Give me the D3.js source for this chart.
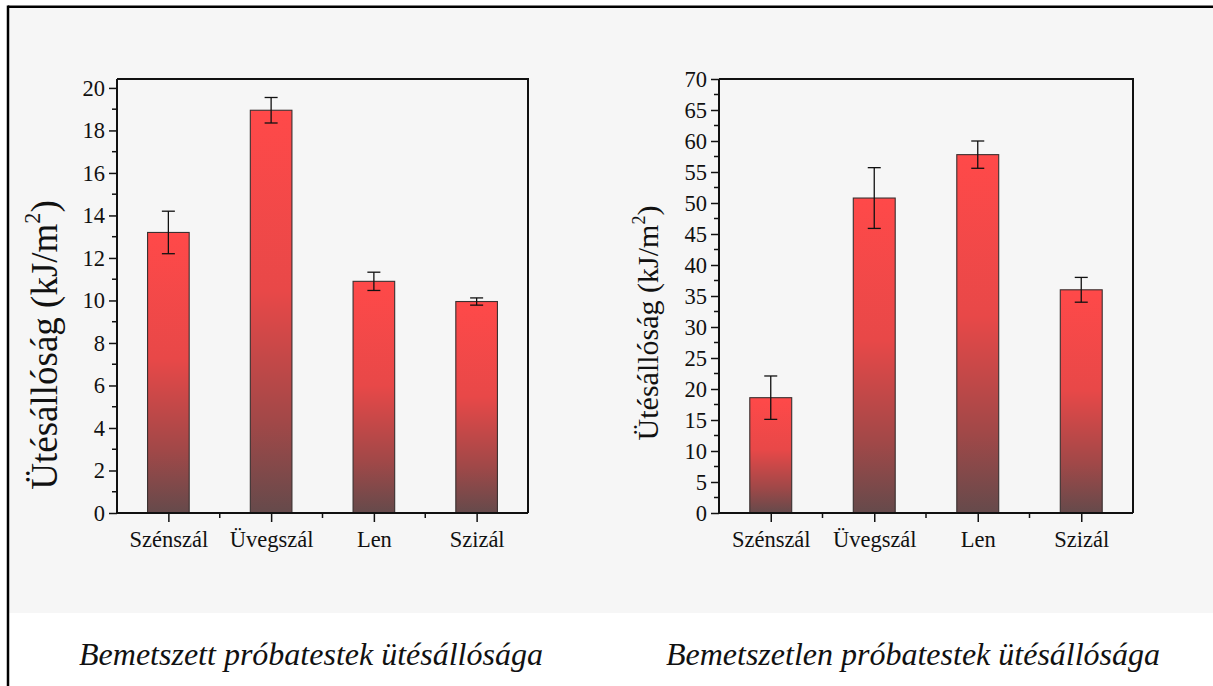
<!DOCTYPE html>
<html>
<head>
<meta charset="utf-8">
<script src="https://cdn.jsdelivr.net/npm/d3@7"></script>
<style>
  html, body { margin: 0; padding: 0; background: #ffffff; }
  svg { display: block; }
  text { font-family: "Liberation Serif", "Times New Roman", "Tinos", "Noto Serif", "DejaVu Serif", serif; fill: #111; }
</style>
</head>
<body>
<svg id="fig" width="1213" height="686"></svg>
<script>
// Impact strength of fibre-reinforced specimens (kJ/m²)
const categories = ["Szénszál", "Üvegszál", "Len", "Szizál"];

// Notched specimens
const notchedValues = [13.2, 18.95, 10.9, 9.95];
const notchedErrors = [1.0, 0.6, 0.43, 0.17];
const notchedTicks = [0, 2, 4, 6, 8, 10, 12, 14, 16, 18, 20];

// Unnotched specimens
const unnotchedValues = [18.6, 50.8, 57.8, 36.0];
const unnotchedErrors = [3.5, 4.9, 2.2, 2.0];
const unnotchedTicks = [0, 5, 10, 15, 20, 25, 30, 35, 40, 45, 50, 55, 60, 65, 70];

const captions = ["Bemetszett próbatestek ütésállósága", "Bemetszetlen próbatestek ütésállósága"];
const yLabel = "Ütésállóság (kJ/m";

const FONT = '"Liberation Serif", "Times New Roman", "Tinos", "Noto Serif", "DejaVu Serif", serif';

const svg = d3.select("#fig");

// page background: light panel above the captions, framed on top and left
svg.append("rect").attr("x", 9).attr("y", 8).attr("width", 1204).attr("height", 605).attr("fill", "#f6f6f6");
svg.append("line").attr("x1", 8).attr("x2", 1213).attr("y1", 6.8).attr("y2", 6.8)
  .attr("stroke", "#000").attr("stroke-width", 2.5);
svg.append("line").attr("x1", 8).attr("x2", 8).attr("y1", 5.5).attr("y2", 686)
  .attr("stroke", "#000").attr("stroke-width", 2.5);

// bar gradient: bright red at the top fading to dark brown at the base
const defs = svg.append("defs");
const grad = defs.append("linearGradient").attr("id", "barGrad")
  .attr("x1", 0).attr("y1", 0).attr("x2", 0).attr("y2", 1);
grad.append("stop").attr("offset", "0%").attr("stop-color", "#ff4949");
grad.append("stop").attr("offset", "45%").attr("stop-color", "#e84848");
grad.append("stop").attr("offset", "78%").attr("stop-color", "#a04848");
grad.append("stop").attr("offset", "100%").attr("stop-color", "#654a4b");

function drawPanel(opts) {
  const { left, right, top, bottom, yMax, ticks, minorStep, values, errors,
          caption, captionX, labelX, labelY, labelSize } = opts;
  const g = svg.append("g");

  const x = d3.scaleLinear().domain([0.5, 4.5]).range([left, right]);
  const y = d3.scaleLinear().domain([0, yMax]).range([bottom, top]);
  const barW = (x(2) - x(1)) * 0.405;

  // bars
  g.selectAll("rect.bar").data(values).join("rect")
    .attr("class", "bar")
    .attr("x", (d, i) => x(i + 1) - barW / 2)
    .attr("y", d => y(d))
    .attr("width", barW)
    .attr("height", d => y(0) - y(d))
    .attr("fill", "url(#barGrad)")
    .attr("stroke", "#3a3030").attr("stroke-width", 1.1);

  // error bars
  const capW = 6.5;
  const eb = g.selectAll("g.err").data(values).join("g").attr("class", "err");
  eb.append("line")
    .attr("x1", (d, i) => x(i + 1)).attr("x2", (d, i) => x(i + 1))
    .attr("y1", (d, i) => y(d + errors[i])).attr("y2", (d, i) => y(d - errors[i]))
    .attr("stroke", "#111").attr("stroke-width", 1.3);
  eb.append("line")
    .attr("x1", (d, i) => x(i + 1) - capW).attr("x2", (d, i) => x(i + 1) + capW)
    .attr("y1", (d, i) => y(d + errors[i])).attr("y2", (d, i) => y(d + errors[i]))
    .attr("stroke", "#111").attr("stroke-width", 1.3);
  eb.append("line")
    .attr("x1", (d, i) => x(i + 1) - capW).attr("x2", (d, i) => x(i + 1) + capW)
    .attr("y1", (d, i) => y(d - errors[i])).attr("y2", (d, i) => y(d - errors[i]))
    .attr("stroke", "#111").attr("stroke-width", 1.3);

  // frame (top and right edges)
  g.append("path")
    .attr("d", `M${left},${top}H${right}V${bottom}`)
    .attr("fill", "none").attr("stroke", "#111").attr("stroke-width", 2);

  // left axis: major labelled ticks plus minor ticks
  const yAxis = d3.axisLeft(y).tickValues(ticks).tickSize(8).tickPadding(4).tickFormat(d3.format("d"));
  const ya = g.append("g").attr("transform", `translate(${left},0)`).call(yAxis);
  const minor = d3.range(minorStep, yMax, minorStep).filter(v => !ticks.includes(v));
  ya.selectAll("line.minor").data(minor).join("line").attr("class", "minor")
    .attr("x1", 0).attr("x2", -5).attr("y1", d => y(d)).attr("y2", d => y(d))
    .attr("stroke", "#111").attr("stroke-width", 1.5);

  // bottom axis: category ticks plus minor ticks halfway between
  const xAxis = d3.axisBottom(x).tickValues([1, 2, 3, 4]).tickSize(9).tickPadding(9)
    .tickFormat(d => categories[d - 1]);
  const xa = g.append("g").attr("transform", `translate(0,${bottom})`).call(xAxis);
  xa.selectAll("line.minor").data([1.5, 2.5, 3.5]).join("line").attr("class", "minor")
    .attr("x1", d => x(d)).attr("x2", d => x(d)).attr("y1", 0).attr("y2", 5)
    .attr("stroke", "#111").attr("stroke-width", 1.5);

  [ya, xa].forEach(a => {
    a.attr("font-family", FONT);
    a.select(".domain").attr("stroke", "#111").attr("stroke-width", 2);
    a.selectAll(".tick line").attr("stroke", "#111").attr("stroke-width", 1.5);
    a.selectAll("text").attr("font-size", 22.5).attr("fill", "#111");
  });
  ya.select(".domain").attr("d", `M0,${top}V${bottom}`);
  xa.select(".domain").attr("d", `M${left},0H${right}`);

  // rotated y-axis title with superscript
  const supShift = labelSize * 0.45;
  const yt = g.append("text")
    .attr("transform", `translate(${labelX},${labelY}) rotate(-90)`)
    .attr("text-anchor", "middle")
    .attr("font-size", labelSize);
  yt.append("tspan").text(yLabel);
  yt.append("tspan").attr("font-size", labelSize * 0.6).attr("dy", -supShift).text("2");
  yt.append("tspan").attr("dy", supShift).text(")");

  // caption under the chart
  svg.append("text").attr("x", captionX).attr("y", 665)
    .attr("text-anchor", "middle").attr("font-style", "italic").attr("font-size", 32)
    .text(caption);
}

drawPanel({
  left: 117, right: 528, top: 79, bottom: 513, yMax: 20.42,
  ticks: notchedTicks, minorStep: 1, values: notchedValues, errors: notchedErrors,
  caption: captions[0], captionX: 311, labelX: 57, labelY: 345, labelSize: 37
});

drawPanel({
  left: 719, right: 1133, top: 79, bottom: 513, yMax: 70,
  ticks: unnotchedTicks, minorStep: 2.5, values: unnotchedValues, errors: unnotchedErrors,
  caption: captions[1], captionX: 913, labelX: 658, labelY: 323, labelSize: 30
});
</script>
</body>
</html>
